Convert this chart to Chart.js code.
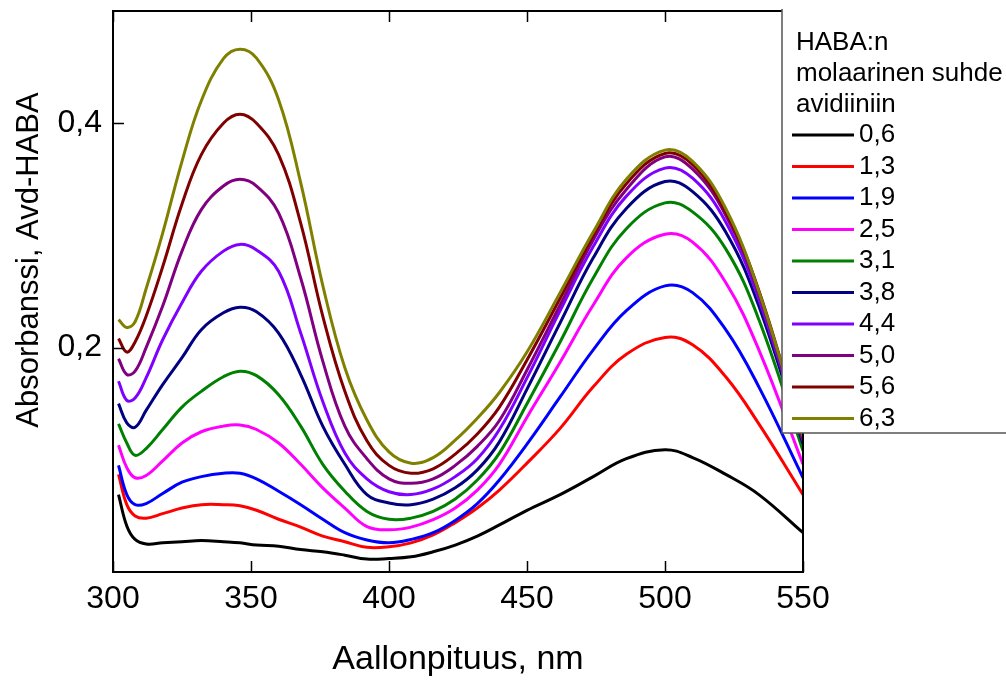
<!DOCTYPE html>
<html>
<head>
<meta charset="utf-8">
<script src="https://cdn.jsdelivr.net/npm/chart.js@4.4.1/dist/chart.umd.min.js"></script>
<style>
  html, body { margin: 0; padding: 0; background: #fff; }
  #wrap { width: 1006px; height: 682px; position: relative; }
</style>
</head>
<body>
<div id="wrap"><canvas id="spectra"></canvas></div>
<script>
// Absorbance spectra of avidin-HABA at different HABA:avidin ratios
const wavelengths = [302, 305, 308, 312, 318, 325, 332, 340, 346, 352, 360, 368, 376, 384, 392,
  400, 408, 416, 424, 432, 440, 450, 462, 474, 486, 500, 510, 522, 534, 550];

const ratios = ['0,6', '1,3', '1,9', '2,5', '3,1', '3,8', '4,4', '5,0', '5,6', '6,3'];
const colors = ['#000000', '#ff0000', '#0000ff', '#ff00ff', '#008000',
  '#000080', '#8000ff', '#800080', '#800000', '#808000'];

const abs06 = [.069, .041, .029, .025, .026, .027, .028, .027, .026, .024, .023, .020, .018, .015, .0115,
  .012, .0135, .018, .024, .032, .042, .055, .069, .085, .101, .109, .102, .087, .069, .035];
const abs13 = [.087, .060, .050, .048, .052, .057, .060, .060, .059, .055, .047, .040, .032, .027, .022,
  .0225, .026, .033, .044, .057, .073, .097, .128, .165, .194, .209, .2025, .174, .132, .069];
const abs19 = [.095, .069, .060, .061, .070, .080, .085, .088, .088, .083, .072, .060, .047, .035, .0285,
  .026, .029, .035, .046, .061, .082, .114, .156, .198, .233, .255, .249, .216, .165, .084];
const abs25 = [.113, .093, .084, .086, .099, .115, .125, .130, .131, .127, .115, .096, .075, .057, .0405,
  .0376, .040, .0466, .057, .073, .096, .138, .187, .238, .280, .301, .294, .258, .198, .096];
const abs31 = [.132, .115, .104, .110, .127, .147, .161, .174, .179, .175, .158, .130, .096, .072, .054,
  .047, .048, .054, .065, .082, .106, .150, .205, .262, .306, .329, .321, .288, .225, .108];
const abs38 = [.150, .133, .129, .144, .167, .191, .216, .231, .236, .232, .213, .176, .130, .096, .069,
  .0615, .060, .065, .075, .091, .116, .163, .222, .280, .324, .348, .339, .303, .237, .114];
const abs44 = [.170, .153, .155, .173, .207, .240, .268, .286, .292, .287, .268, .213, .152, .106, .083,
  .0715, .069, .074, .085, .101, .127, .173, .233, .290, .335, .360, .351, .312, .243, .117];
const abs50 = [.190, .176, .179, .200, .237, .286, .323, .344, .350, .344, .320, .262, .188, .130, .101,
  .083, .079, .083, .095, .112, .135, .180, .238, .296, .341, .370, .359, .318, .248, .118];
const abs56 = [.208, .196, .205, .228, .272, .328, .372, .400, .408, .400, .372, .311, .228, .161, .117,
  .095, .088, .092, .105, .123, .147, .189, .244, .300, .346, .373, .363, .321, .251, .120];
const abs63 = [.225, .218, .223, .2525, .302, .366, .420, .4575, .466, .458, .421, .347, .2555, .182, .1355,
  .107, .097, .102, .1175, .137, .160, .196, .249, .303, .350, .376, .366, .324, .250, .121];

const series = [abs06, abs13, abs19, abs25, abs31, abs38, abs44, abs50, abs56, abs63];
const legendTitle = ['HABA:n', 'molaarinen suhde', 'avidiiniin'];
const yTitle = 'Absorbanssi, Avd-HABA';

const FONT = '"Liberation Sans", Arial, sans-serif';

// frame on all four sides with inward major/minor ticks, plus the y title
const frameTicks = {
  id: 'frameTicks',
  afterDatasetsDraw(chart) {
    const { ctx, chartArea: a, scales: { x, y } } = chart;
    ctx.save();
    ctx.strokeStyle = '#000';
    ctx.lineWidth = 2;
    ctx.strokeRect(a.left, a.top, a.right - a.left, a.bottom - a.top);
    ctx.lineWidth = 1.5;
    ctx.beginPath();
    x.ticks.forEach(t => {
      const px = Math.round(x.getPixelForValue(t.value)) + 0.5;
      const len = t.value % 50 === 0 ? 11 : 6;
      ctx.moveTo(px, a.bottom); ctx.lineTo(px, a.bottom - len);
      ctx.moveTo(px, a.top); ctx.lineTo(px, a.top + len);
    });
    y.ticks.forEach(t => {
      const py = Math.round(y.getPixelForValue(t.value)) + 0.5;
      const q = t.value / 0.2;
      const len = Math.abs(q - Math.round(q)) < 1e-6 ? 11 : 6;
      ctx.moveTo(a.left, py); ctx.lineTo(a.left + len, py);
      ctx.moveTo(a.right, py); ctx.lineTo(a.right - len, py);
    });
    ctx.stroke();

    ctx.translate(38, 260);
    ctx.rotate(-Math.PI / 2);
    ctx.font = '31px ' + FONT;
    ctx.fillStyle = '#000';
    ctx.textAlign = 'center';
    ctx.textBaseline = 'alphabetic';
    ctx.fillText(yTitle, 0, 0);
    ctx.restore();
  }
};

// boxed legend in the upper right corner
const ratioLegend = {
  id: 'ratioLegend',
  afterDraw(chart) {
    const ctx = chart.ctx;
    const left = 782, top = 9, bottom = 433;
    ctx.save();
    ctx.fillStyle = '#fff';
    ctx.fillRect(left, 0, chart.width - left, bottom);
    ctx.strokeStyle = '#555';
    ctx.lineWidth = 1.5;
    ctx.beginPath();
    ctx.moveTo(left, top); ctx.lineTo(left, bottom); ctx.lineTo(chart.width, bottom);
    ctx.stroke();
    ctx.font = '26px ' + FONT;
    ctx.fillStyle = '#000';
    ctx.textBaseline = 'middle';
    legendTitle.forEach((line, i) => ctx.fillText(line, 796, 43 + i * 31));
    chart.data.datasets.forEach((ds, i) => {
      const yy = 135 + i * 31.5;
      ctx.strokeStyle = ds.borderColor;
      ctx.lineWidth = 3;
      ctx.beginPath(); ctx.moveTo(792, yy); ctx.lineTo(854, yy); ctx.stroke();
      ctx.fillText(ds.label, 859, yy);
    });
    ctx.restore();
  }
};

new Chart(document.getElementById('spectra'), {
  type: 'line',
  data: {
    datasets: series.map((vals, i) => ({
      label: ratios[i],
      data: wavelengths.map((w, j) => ({ x: w, y: vals[j] })),
      borderColor: colors[i],
      borderWidth: 3,
      pointRadius: 0,
      fill: false,
      tension: 0.4,
      order: series.length - i
    }))
  },
  options: {
    responsive: true,
    maintainAspectRatio: false,
    animation: false,
    layout: { padding: { top: 11, right: 203, left: 0, bottom: 0 } },
    plugins: { legend: { display: false }, tooltip: { enabled: false } },
    scales: {
      x: {
        type: 'linear',
        min: 300,
        max: 550,
        grid: { display: false, drawTicks: false },
        border: { display: false },
        ticks: {
          stepSize: 25,
          autoSkip: false,
          maxRotation: 0,
          padding: 8,
          color: '#000',
          font: { family: FONT, size: 32 },
          callback: v => (v % 50 === 0 ? String(v) : null)
        },
        title: {
          display: true,
          text: 'Aallonpituus, nm',
          color: '#000',
          font: { family: FONT, size: 34 },
          padding: { top: 0, bottom: 2 }
        },
        afterFit: s => { s.height = 110; s.paddingLeft = 0; s.paddingRight = 0; }
      },
      y: {
        min: 0,
        max: 0.5,
        grid: { display: false, drawTicks: false },
        border: { display: false },
        ticks: {
          stepSize: 0.1,
          autoSkip: false,
          padding: 11,
          color: '#000',
          font: { family: FONT, size: 32 },
          callback: v => {
            const r = Math.round(v * 10) / 10;
            return (r === 0.2 || r === 0.4) ? r.toFixed(1).replace('.', ',') : null;
          }
        },
        afterFit: s => { s.width = 113; s.paddingTop = 0; s.paddingBottom = 0; }
      }
    }
  },
  plugins: [frameTicks, ratioLegend]
});
</script>
</body>
</html>
